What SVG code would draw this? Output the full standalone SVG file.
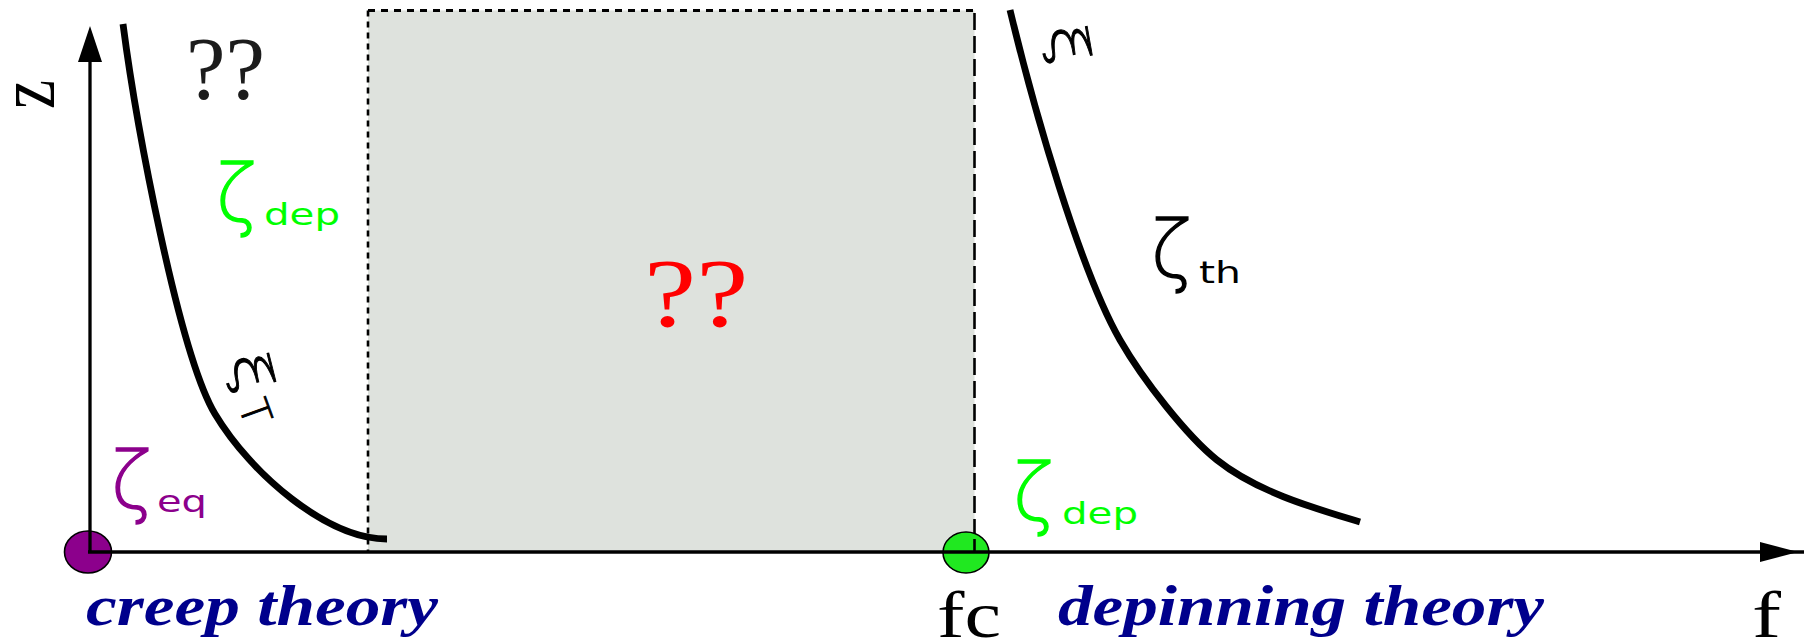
<svg xmlns="http://www.w3.org/2000/svg" width="1804" height="640" viewBox="0 0 1804 640">
<style>
.curve{fill:none;stroke:#000;stroke-width:6.8;stroke-linecap:butt;stroke-linejoin:round}
.axis{fill:none;stroke:#000;stroke-width:3.3}
.sym{font-family:"DejaVu Sans",sans-serif;font-weight:200;font-size:62px;stroke-width:1.1}
.rot{font-family:"DejaVu Sans",sans-serif;font-weight:200;stroke:#000;stroke-width:0.9}
.sub{font-family:"DejaVu Sans",sans-serif;font-size:30px}
.serif{font-family:"Liberation Serif","Times New Roman",serif}
.theory{font-family:"Liberation Serif","Times New Roman",serif;font-weight:bold;font-style:italic;font-size:58px;fill:#00008c}
</style>
<rect width="1804" height="640" fill="#fff"/>
<g id="unknown-region">
  <rect x="368" y="10.5" width="606.5" height="541.5" fill="#dee2dd"/>
  <line x1="368" y1="10.5" x2="974.5" y2="10.5" stroke="#000" stroke-width="2.8" stroke-dasharray="7 6"/>
  <line x1="368" y1="10.5" x2="368" y2="552" stroke="#000" stroke-width="2.6" stroke-dasharray="6 5"/>
  <line x1="974.5" y1="13" x2="974.5" y2="552" stroke="#000" stroke-width="2.6" stroke-dasharray="17 6"/>
  <text class="serif" font-size="98" fill="#ff0000" transform="translate(644,326) scale(1.2,1)">??</text>
</g>
<g id="curves">
  <path class="curve" d="M123,24 C136,124 179,354 215,414 C251,474 327,539 387,539"/>
  <path class="curve" d="M1010,10 C1034,110 1080,270 1120,340 C1143,380 1187,436 1217,460 C1257,492 1315,508.5 1360,522"/>
</g>
<g id="point-eq">
  <ellipse cx="88" cy="552" rx="23.5" ry="21" fill="#8c008c" stroke="#000" stroke-width="1.6"/>
</g>
<g id="point-fc">
  <ellipse cx="966" cy="552.5" rx="23" ry="20.5" fill="#20e820" stroke="#000" stroke-width="1.6"/>
  <line x1="974.5" y1="539" x2="974.5" y2="552" stroke="#000" stroke-width="2.6"/>
</g>
<g id="axes">
  <line class="axis" x1="90" y1="552" x2="90" y2="60"/>
  <polygon points="90,26 78,62 102,62" fill="#000"/>
  <line class="axis" x1="88" y1="552" x2="1804" y2="552"/>
  <polygon points="1760,542 1798,552 1760,562" fill="#000"/>
  <text class="serif" font-size="83" fill="#000" transform="translate(54,109) rotate(-90) scale(0.79,1)">z</text>
  <text class="serif" font-size="65" fill="#000" x="1752" y="637" textLength="29" lengthAdjust="spacingAndGlyphs">f</text>
  <text class="serif" font-size="65" fill="#000" x="937" y="637" textLength="64" lengthAdjust="spacingAndGlyphs">fc</text>
</g>
<g id="label-unknown-top">
  <text class="serif" font-size="89" fill="#1c1c1c" x="186" y="98">??</text>
</g>
<g id="label-zeta-dep-top" fill="#00ff00">
  <text class="sym" stroke="#00ff00" transform="translate(216,221) scale(1.2,1.25)">ζ</text>
  <text class="sub" x="264" y="225" textLength="76" lengthAdjust="spacingAndGlyphs">dep</text>
</g>
<g id="label-zeta-eq" fill="#8c008c">
  <text class="sym" stroke="#8c008c" transform="translate(111,508) scale(1.2,1.25)">ζ</text>
  <text class="sub" x="157" y="512" textLength="50" lengthAdjust="spacingAndGlyphs">eq</text>
</g>
<g id="label-zeta-dep-bottom" fill="#00ff00">
  <text class="sym" stroke="#00ff00" transform="translate(1013,520) scale(1.2,1.25)">ζ</text>
  <text class="sub" x="1062" y="524" textLength="76" lengthAdjust="spacingAndGlyphs">dep</text>
</g>
<g id="label-zeta-th" fill="#000">
  <text class="sym" stroke="#000" transform="translate(1151,277) scale(1.2,1.25)">ζ</text>
  <text class="sub" x="1199" y="283" textLength="42" lengthAdjust="spacingAndGlyphs">th</text>
</g>
<g id="label-xi-T" fill="#000">
  <text class="rot" font-size="50" text-anchor="middle" y="19" transform="translate(254,372) rotate(76) scale(1.5,1)">ξ</text>
  <text class="rot" font-size="40" text-anchor="middle" y="14" transform="translate(255,412) rotate(70)">T</text>
</g>
<g id="label-xi" fill="#000">
  <text class="rot" font-size="50" text-anchor="middle" y="19" transform="translate(1071,44) rotate(80) scale(1.5,1)">ξ</text>
</g>
<g id="label-creep">
  <text class="theory" x="86" y="625" textLength="352" lengthAdjust="spacingAndGlyphs">creep theory</text>
</g>
<g id="label-depinning">
  <text class="theory" x="1058" y="625" textLength="486" lengthAdjust="spacingAndGlyphs">depinning theory</text>
</g>
</svg>
